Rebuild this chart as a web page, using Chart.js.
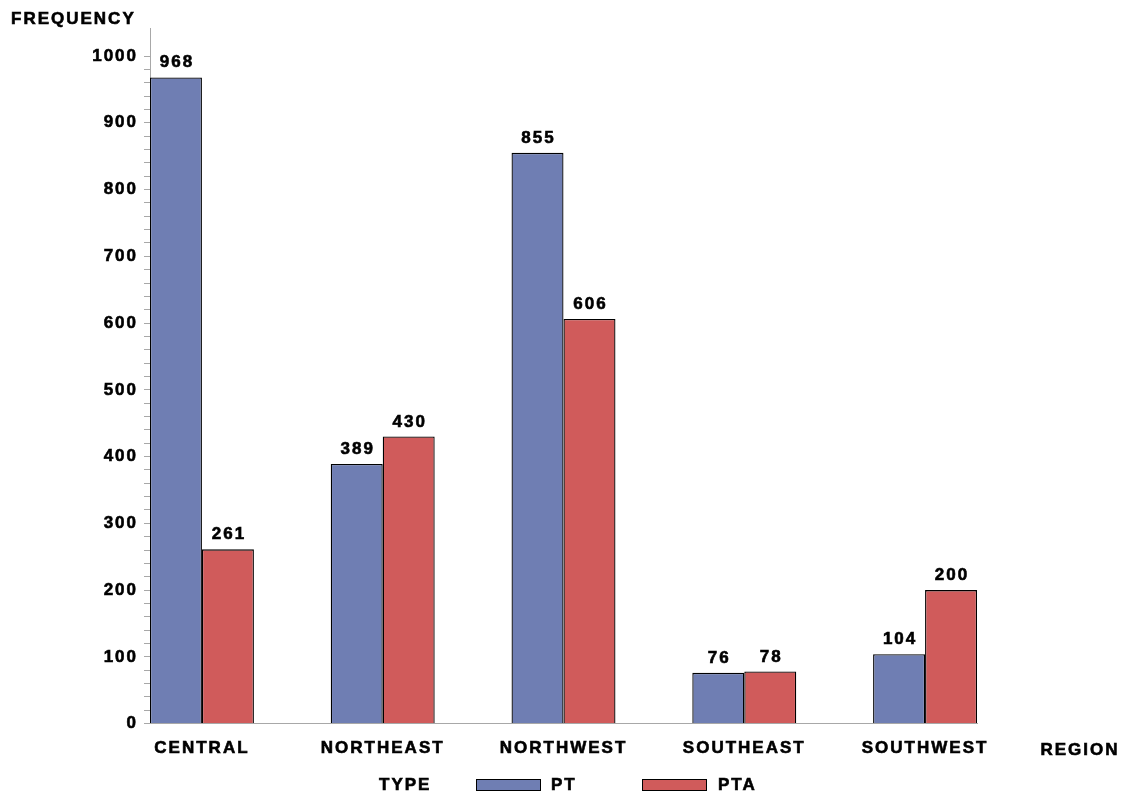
<!DOCTYPE html>
<html>
<head>
<meta charset="utf-8">
<script src="https://cdn.jsdelivr.net/npm/chart.js@4"></script>
<style>
  html, body { margin: 0; padding: 0; background: #fff; }
</style>
</head>
<body>
<canvas id="chart" width="1125" height="795"></canvas>
<script>
// chart values
const regions = ['CENTRAL', 'NORTHEAST', 'NORTHWEST', 'SOUTHEAST', 'SOUTHWEST']
const typeNames = ['PT', 'PTA']
const ptCounts = [968, 389, 855, 76, 104]
const ptaCounts = [261, 430, 606, 78, 200]
const yMax = 1042
const yLabelStep = 100
const yMinorStep = 20

const fontFamily = '"Liberation Sans", Arial, sans-serif'
const textFont = 'bold 17px ' + fontFamily
const textStroke = 0.6
const axisGray = '#a8a8a8'
const colors = ['#6f7eb3', '#d05b5b']

function pointsFrom(values) {
  return values.map((v, i) => ({x: i, y: v}))
}

// the SAS text is wide, so space the letters out a little
function spaceLetters(chart) {
  chart.ctx.letterSpacing = '2px'
}

function boldText(ctx, text, x, y) {
  ctx.strokeText(text, x, y)
  ctx.fillText(text, x, y)
}

const sasText = {
  id: 'sasText',
  beforeUpdate: spaceLetters,
  beforeLayout: spaceLetters,
  beforeDraw: spaceLetters,
  afterDatasetsDraw(chart) {
    const ctx = chart.ctx
    ctx.save()
    ctx.font = textFont
    ctx.fillStyle = '#000'
    ctx.strokeStyle = '#000'
    ctx.lineWidth = textStroke
    ctx.textAlign = 'center'
    ctx.textBaseline = 'alphabetic'
    chart.data.datasets.forEach((ds, di) => {
      chart.getDatasetMeta(di).data.forEach((bar, i) => {
        boldText(ctx, String(ds.data[i].y), bar.x + 1, bar.y - 10)
      })
    })
    ctx.restore()
  },
  afterDraw(chart) {
    const ctx = chart.ctx
    ctx.save()
    ctx.font = textFont
    ctx.fillStyle = '#000'
    ctx.strokeStyle = '#000'
    ctx.lineWidth = textStroke
    ctx.textBaseline = 'alphabetic'
    ctx.textAlign = 'left'
    boldText(ctx, 'FREQUENCY', 11, 24)
    ctx.textAlign = 'center'
    boldText(ctx, 'REGION', 1080, 755)

    // legend row
    ctx.textAlign = 'left'
    boldText(ctx, 'TYPE', 379, 790)
    const boxX = [476, 642]
    const labelX = [551, 718]
    chart.data.datasets.forEach((ds, di) => {
      ctx.fillStyle = ds.backgroundColor
      ctx.fillRect(boxX[di], 779, 65, 12)
      ctx.lineWidth = 1
      ctx.strokeRect(boxX[di] + 0.5, 779.5, 64, 11)
      ctx.fillStyle = '#000'
      ctx.lineWidth = textStroke
      boldText(ctx, ds.label, labelX[di], 790)
    })
    ctx.restore()
  }
}

const tickFont = {family: fontFamily, size: 17, weight: 'bold'}

const ctx = document.getElementById('chart').getContext('2d')
const chart = new Chart(ctx, {
  type: 'bar',
  data: {
    datasets: [{
      label: typeNames[0],
      data: pointsFrom(ptCounts),
      backgroundColor: colors[0],
      borderColor: '#000',
      borderWidth: 1.3
    }, {
      label: typeNames[1],
      data: pointsFrom(ptaCounts),
      backgroundColor: colors[1],
      borderColor: '#000',
      borderWidth: 1.3
    }]
  },
  options: {
    responsive: false,
    animation: false,
    events: [],
    categoryPercentage: 0.575,
    barPercentage: 1,
    layout: {
      padding: {left: 10, top: 28, right: 1125 - 977, bottom: 21}
    },
    plugins: {
      legend: {display: false},
      tooltip: {enabled: false}
    },
    scales: {
      x: {
        type: 'linear',
        offset: false,
        min: -0.2873,
        max: regions.length - 1 + 0.2873,
        grid: {display: false, drawTicks: false, offset: false},
        border: {display: true, color: axisGray, width: 1},
        afterBuildTicks(scale) {
          scale.ticks = regions.map((r, i) => ({value: i}))
        },
        ticks: {
          autoSkip: false,
          maxRotation: 0,
          padding: 15,
          color: '#000',
          textStrokeColor: '#000',
          textStrokeWidth: textStroke,
          font: tickFont,
          callback: (v) => regions[v]
        }
      },
      y: {
        min: 0,
        max: yMax,
        grid: {drawOnChartArea: false, drawTicks: true, tickLength: 6, color: axisGray},
        border: {display: true, color: axisGray, width: 1},
        afterBuildTicks(scale) {
          scale.ticks = scale.ticks.filter(t => t.value <= 1000 && t.value % yMinorStep === 0)
        },
        afterFit(scale) {
          scale.width = 140
        },
        ticks: {
          stepSize: yMinorStep,
          autoSkip: false,
          padding: 6,
          color: '#000',
          textStrokeColor: '#000',
          textStrokeWidth: textStroke,
          font: tickFont,
          callback: (v) => v % yLabelStep === 0 ? String(v) : ''
        }
      }
    }
  },
  plugins: [sasText]
})
</script>
</body>
</html>
